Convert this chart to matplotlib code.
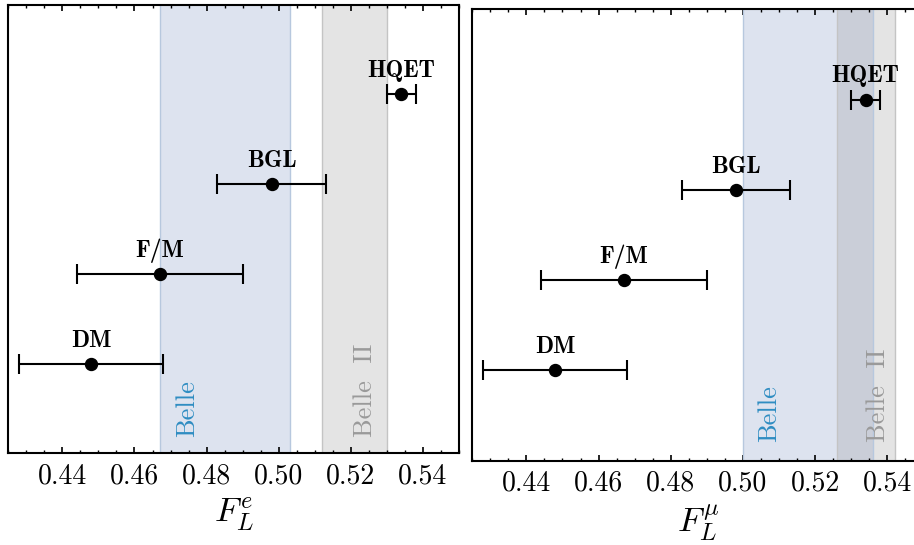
import matplotlib
matplotlib.use("Agg")
import matplotlib.pyplot as plt
from matplotlib.ticker import MultipleLocator

plt.rcParams["font.family"] = "cmr10"
plt.rcParams["mathtext.fontset"] = "cm"
plt.rcParams["axes.formatter.use_mathtext"] = True

# Model predictions for the longitudinal polarisation fraction
models = ["DM", "F/M", "BGL", "HQET"]
fl_e = [0.448, 0.467, 0.498, 0.534]
fl_e_err = [0.020, 0.023, 0.015, 0.004]
fl_mu = [0.448, 0.467, 0.498, 0.534]
fl_mu_err = [0.020, 0.023, 0.015, 0.004]

# Experimental 1-sigma bands (low, high)
belle_e = (0.467, 0.503)
belle2_e = (0.512, 0.530)
belle_mu = (0.500, 0.536)
belle2_mu = (0.526, 0.542)

xticks = [0.44, 0.46, 0.48, 0.50, 0.52, 0.54]
xlim = (0.425, 0.55)

BELLE_FILL = "#dde3ef"
BELLE_EDGE = "#b7c8de"
BELLE_TEXT = "#2f8dc2"
B2_FILL = "#878787"
B2_EDGE = "#c4c4c4"
B2_TEXT = "#9a9a9a"

fig = plt.figure(figsize=(9.14, 5.45), dpi=100)
ax_e = fig.add_axes([0.00908, 0.1682, 0.4931, 0.8232])
ax_mu = fig.add_axes([0.5167, 0.1547, 0.4936, 0.8282])


def draw_panel(ax, vals, errs, belle, belle2, xlabel, text_x, text_y):
    ys = list(range(1, len(models) + 1))
    ax.axvspan(*belle, facecolor=BELLE_FILL, edgecolor="none", zorder=0)
    ax.axvspan(*belle2, facecolor=B2_FILL, alpha=0.22, edgecolor="none", zorder=1)
    for x in belle2:
        ax.axvline(x, color=B2_EDGE, lw=1.0, zorder=1.5)
    for x in belle:
        ax.axvline(x, color=BELLE_EDGE, lw=1.0, zorder=1.6)

    ax.errorbar(vals, ys, xerr=errs, fmt="o", color="black", ms=8.6,
                capsize=7, elinewidth=1.5, capthick=1.5, zorder=3)
    for name, v, y in zip(models, vals, ys):
        ax.text(v, y + 0.19, name, ha="center", va="baseline",
                fontfamily="cmb10", fontsize=17, zorder=4)

    ax.text(text_x[0], text_y, "Belle", rotation=90, ha="center",
            va="bottom", color=BELLE_TEXT, fontsize=19, zorder=2)
    ax.text(text_x[1], text_y, "Belle  II", rotation=90, ha="center",
            va="bottom", color=B2_TEXT, fontsize=19, zorder=2)

    ax.set_xlim(*xlim)
    ax.set_ylim(0, 5)
    ax.set_xticks(xticks)
    ax.set_xticklabels([f"{t:.2f}" for t in xticks])
    ax.xaxis.set_minor_locator(MultipleLocator(0.005))
    ax.set_yticks([])
    ax.tick_params(axis="x", which="major", direction="in", length=4, width=1.2,
                   top=True, labelsize=20, pad=7)
    ax.tick_params(axis="x", which="minor", direction="in", length=2.5, width=1.0,
                   top=True)
    for s in ax.spines.values():
        s.set_linewidth(1.5)
    ax.set_xlabel(xlabel, fontsize=25, labelpad=4)


draw_panel(ax_e, fl_e, fl_e_err, belle_e, belle2_e, r"$F_L^e$",
           (0.4746, 0.5241), 0.185)
draw_panel(ax_mu, fl_mu, fl_mu_err, belle_mu, belle2_mu, r"$F_L^\mu$",
           (0.5073, 0.5374), 0.21)

fig.savefig("out.png", dpi=100)
